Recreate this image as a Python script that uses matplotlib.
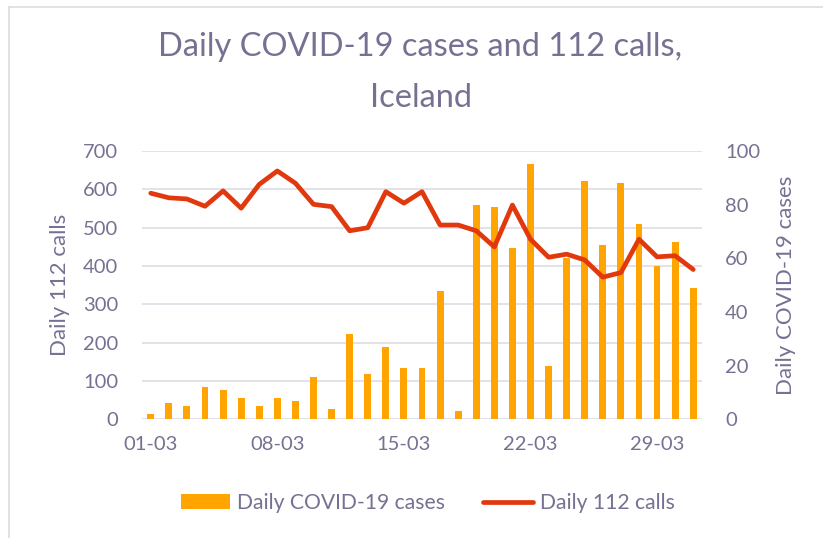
import matplotlib
matplotlib.use("Agg")
import matplotlib.pyplot as plt
from matplotlib.lines import Line2D
from matplotlib.patches import Patch

# Data
days = [f"{d:02d}-03" for d in range(1, 32)]
cases = [2, 6, 5, 12, 11, 8, 5, 8, 7, 16, 4, 32, 17, 27, 19, 19, 48, 3,
         80, 79, 64, 95, 20, 60, 89, 65, 88, 73, 57, 66, 49]
calls = [590, 578, 575, 556, 596, 551, 613, 648, 616, 561, 555, 492, 500,
         594, 564, 594, 507, 507, 492, 450, 559, 470, 423, 431, 416, 371,
         383, 470, 424, 427, 391]
tick_days = ["01-03", "08-03", "15-03", "22-03", "29-03"]

TXT = "#767192"
BAR = "#FFA400"
LINE = "#E2380E"
GRID = "#E0DFE6"
FONT = "Lato"
plt.rcParams["font.family"] = [FONT, "DejaVu Sans"]

fig = plt.figure(figsize=(8.23, 5.38), dpi=100)
ax = fig.add_axes([0.1722, 0.2203, 0.6811, 0.4990])
ax2 = ax.twinx()

x = list(range(len(days)))
ax2.bar(x, cases, width=0.38, color=BAR, zorder=2)
ax.plot(x, calls, color=LINE, lw=3.4, solid_capstyle="round",
        solid_joinstyle="round", zorder=3)

# put line above bars
ax.set_zorder(ax2.get_zorder() + 1)
ax.patch.set_visible(False)

ax.set_xlim(-0.5, len(days) - 0.5)
ax.set_ylim(0, 700)
ax2.set_ylim(0, 100)
ax.set_yticks(range(0, 701, 100))
ax2.set_yticks(range(0, 101, 20))
ax.set_xticks([days.index(d) for d in tick_days])
ax.set_xticklabels(tick_days)

for a in (ax, ax2):
    for s in a.spines.values():
        s.set_visible(False)
    a.tick_params(length=0, labelsize=14.5, labelcolor=TXT)
ax.tick_params(axis="y", pad=17)
ax2.tick_params(axis="y", pad=16.5)
ax.tick_params(axis="x", pad=12)

ax.yaxis.grid(False)
ax2.yaxis.grid(False)
for v in range(0, 701, 100):
    ax2.axhline(v / 7.0, color=GRID, lw=1.3, zorder=0)

ax.set_ylabel("Daily 112 calls", color=TXT, fontsize=16, labelpad=9)
ax2.set_ylabel("Daily COVID-19 cases", color=TXT, fontsize=16, labelpad=11)

fig.text(0.511, 0.913, "Daily COVID-19 cases and 112 calls,", ha="center",
         va="center", fontsize=23.5, color=TXT)
fig.text(0.511, 0.818, "Iceland", ha="center", va="center",
         fontsize=23.5, color=TXT)

handles = [Patch(facecolor=BAR, edgecolor="none"),
           Line2D([0], [0], color=LINE, lw=3.4, solid_capstyle="round")]
fig.legend(handles, ["Daily COVID-19 cases", "Daily 112 calls"],
           loc="center", bbox_to_anchor=(0.5195, 0.065), ncol=2, frameon=False,
           fontsize=15.2, labelcolor=TXT, handlelength=2.35, handletextpad=0.33,
           columnspacing=1.8)

# chart border (left & top visible)
fig.add_artist(Line2D([8.5 / 823, 8.5 / 823], [0, 1 - 6.5 / 538],
                      color="#DCDBE3", lw=1.2, transform=fig.transFigure))
fig.add_artist(Line2D([8.5 / 823, 1], [1 - 6.5 / 538, 1 - 6.5 / 538],
                      color="#DCDBE3", lw=1.2, transform=fig.transFigure))

fig.savefig("out.png", dpi=100, facecolor="white")
